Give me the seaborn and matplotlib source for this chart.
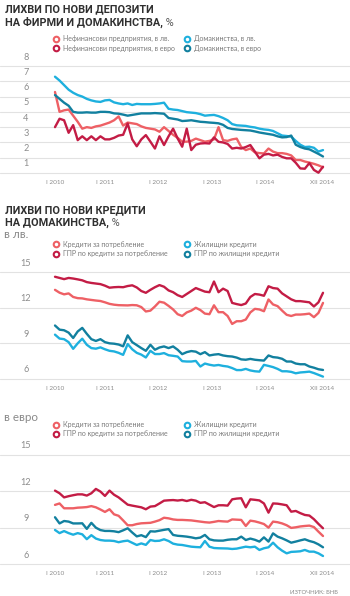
import numpy as np
import pandas as pd
import matplotlib
matplotlib.use("Agg")
import matplotlib.pyplot as plt
import seaborn as sns
from matplotlib import font_manager
from matplotlib import transforms as mtrans
from matplotlib.lines import Line2D
from matplotlib.text import Annotation

# ---------------- data ----------------
x_labels = ["I 2010", "I 2011", "I 2012", "I 2013", "I 2014", "XII 2014"]
months = list(range(60))  # I 2010 .. XII 2014

# chart 1: deposit rates, %
dep_nfc_bgn = [6.3, 5.0, 5.1, 5.15, 4.75, 4.35, 3.9, 4.0, 3.95, 4.05, 4.1, 4.2, 4.3, 4.45, 4.7,
               4.1, 4.3, 4.25, 4.2, 4.05, 3.95, 3.9, 3.85, 3.7, 4.0, 3.75, 3.5, 3.3, 3.05, 3.05,
               3.1, 3.25, 3.15, 3.05, 3.1, 3.2, 4.0, 3.15, 3.1, 3.2, 3.25, 2.7, 2.5, 2.6, 2.35,
               2.3, 2.28, 2.6, 2.4, 2.3, 2.3, 2.25, 2.15, 1.85, 1.85, 1.75, 1.68, 1.6, 1.5, 1.37]
dep_nfc_eur = [4.0, 4.55, 4.45, 3.63, 4.13, 3.15, 3.4, 3.15, 3.4, 3.15, 3.4, 3.2, 3.2, 3.3, 3.45,
               3.5, 4.24, 3.2, 2.75, 3.2, 3.48, 3.05, 2.6, 3.4, 2.83, 3.4, 3.9, 3.26, 2.72, 3.9,
               2.5, 2.85, 2.93, 2.95, 2.93, 3.33, 3.04, 3.0, 2.9, 2.6, 2.65, 2.6, 2.7, 2.83, 2.4,
               1.96, 2.2, 2.25, 2.15, 2.2, 2.05, 1.96, 1.96, 1.67, 1.3, 1.28, 1.65, 1.2, 1.02, 1.41]
dep_hh_bgn = [7.3, 7.05, 6.75, 6.45, 6.25, 6.1, 6.0, 5.85, 5.75, 5.68, 5.65, 5.75, 5.78, 5.62, 5.55,
              5.5, 5.55, 5.45, 5.52, 5.5, 5.5, 5.5, 5.52, 5.55, 5.6, 5.2, 5.15, 5.12, 5.05, 4.98,
              4.95, 4.92, 4.85, 4.75, 4.78, 4.8, 4.72, 4.6, 4.45, 4.2, 4.12, 4.1, 4.08, 4.02, 3.98,
              3.9, 3.85, 3.82, 3.75, 3.6, 3.45, 3.42, 3.38, 3.1, 2.85, 2.7, 2.72, 2.65, 2.4, 2.5]
dep_hh_eur = [6.1, 5.85, 5.6, 5.4, 5.0, 4.95, 4.95, 4.97, 4.95, 4.95, 5.0, 5.0, 4.98, 4.9, 4.88,
              4.82, 4.75, 4.8, 4.85, 4.9, 4.9, 4.9, 4.92, 4.9, 4.88, 4.6, 4.55, 4.5, 4.4, 4.42,
              4.45, 4.4, 4.35, 4.33, 4.3, 4.28, 4.25, 4.15, 3.95, 3.88, 3.85, 3.82, 3.8, 3.78, 3.72,
              3.65, 3.6, 3.55, 3.5, 3.4, 3.33, 3.35, 3.45, 2.85, 2.7, 2.6, 2.55, 2.4, 2.25, 2.08]

# chart 2: household loans in BGN, %
bgn_consumer = [13.5, 13.26, 13.12, 13.2, 12.9, 12.8, 12.78, 12.7, 12.65, 12.6, 12.56, 12.45, 12.32,
                12.25, 12.21, 12.2, 12.19, 12.22, 12.2, 12.05, 11.68, 11.75, 12.1, 12.5, 12.42, 12.15,
                11.85, 11.45, 11.3, 11.6, 11.75, 11.99, 11.8, 11.5, 11.45, 12.2, 11.62, 11.62, 11.3,
                10.63, 10.86, 10.86, 11.0, 11.6, 11.9, 11.85, 11.7, 12.69, 12.27, 12.13, 11.75, 11.4,
                11.3, 11.42, 11.42, 11.45, 11.5, 11.2, 11.56, 12.4]
bgn_consumer_apr = [14.6, 14.5, 14.4, 14.5, 14.45, 14.38, 14.3, 14.15, 14.08, 14.03, 13.98, 13.85,
                    13.68, 13.72, 13.74, 13.72, 13.82, 13.88, 13.7, 13.4, 13.25, 13.5, 13.72, 13.9,
                    13.76, 13.45, 13.3, 13.05, 12.9, 13.15, 13.4, 13.65, 13.5, 13.35, 13.3, 14.2,
                    13.3, 13.6, 13.4, 12.4, 12.3, 12.22, 12.35, 12.9, 13.15, 13.1, 13.0, 13.8, 13.65,
                    13.6, 13.2, 12.95, 12.7, 12.55, 12.55, 12.5, 12.45, 12.1, 12.45, 13.25]
bgn_housing = [9.73, 9.4, 9.35, 9.1, 8.54, 9.0, 9.39, 8.88, 8.6, 8.55, 8.66, 8.5, 8.37, 8.32, 8.2,
               8.03, 8.94, 8.5, 8.2, 8.05, 7.81, 8.37, 8.1, 8.1, 8.18, 8.0, 7.95, 7.89, 7.5, 7.47,
               7.47, 7.52, 7.05, 7.3, 7.2, 7.13, 7.18, 7.1, 7.05, 6.92, 6.75, 6.75, 6.85, 6.72, 6.65,
               6.62, 7.19, 7.1, 7.0, 6.85, 6.65, 6.65, 6.6, 6.48, 6.55, 6.58, 6.62, 6.5, 6.35, 6.2]
bgn_housing_apr = [10.5, 10.15, 10.1, 9.9, 9.45, 10.0, 10.3, 9.8, 9.35, 9.2, 9.35, 9.1, 9.0, 8.97,
                   8.9, 8.75, 9.67, 9.1, 8.85, 8.6, 8.37, 8.88, 8.46, 8.65, 8.74, 8.6, 8.74, 8.46,
                   8.09, 8.26, 8.35, 8.3, 8.09, 8.26, 7.98, 8.05, 8.09, 7.98, 7.92, 7.89, 7.8, 7.65,
                   7.62, 7.69, 7.62, 7.58, 7.55, 7.98, 7.84, 7.8, 7.7, 7.47, 7.47, 7.3, 7.24, 7.24,
                   7.05, 6.95, 6.82, 6.76]

# chart 3: household loans in EUR, %
eur_consumer = [10.88, 11.0, 10.6, 10.6, 10.6, 10.65, 10.67, 10.7, 10.78, 10.68, 10.5, 10.3, 10.52,
                10.1, 9.98, 9.6, 9.2, 9.2, 9.3, 9.36, 9.38, 9.4, 9.5, 9.62, 9.82, 9.77, 9.68, 9.64,
                9.64, 9.62, 9.6, 9.55, 9.5, 9.45, 9.42, 9.48, 9.55, 9.52, 9.5, 9.68, 9.66, 9.64, 9.14,
                9.58, 9.52, 9.42, 9.3, 9.0, 9.5, 9.45, 9.35, 9.2, 8.98, 9.03, 9.1, 9.14, 9.17, 9.05,
                8.67, 8.31]
eur_consumer_apr = [12.06, 11.84, 11.5, 11.6, 11.68, 11.75, 11.75, 11.65, 11.84, 12.2, 11.98, 11.62,
                    12.06, 11.72, 11.5, 11.2, 10.9, 10.82, 10.75, 10.68, 10.52, 10.74, 10.78, 11.0,
                    11.23, 11.26, 11.28, 11.24, 11.29, 11.2, 11.3, 11.23, 11.05, 11.1, 10.9, 10.7,
                    10.85, 10.85, 10.82, 11.34, 11.4, 11.43, 10.68, 11.34, 11.3, 11.25, 11.0, 10.24,
                    11.0, 10.98, 10.92, 10.85, 10.32, 10.38, 10.2, 10.05, 10.0, 9.7, 9.31, 8.95]
eur_housing = [8.81, 8.55, 8.72, 8.55, 8.42, 8.55, 8.45, 8.05, 8.38, 8.1, 7.98, 7.93, 7.93, 7.9, 7.8,
               7.88, 7.93, 7.75, 7.57, 7.7, 7.58, 7.98, 7.9, 7.92, 8.04, 7.9, 7.68, 7.6, 7.57, 7.5,
               7.43, 7.4, 7.38, 7.9, 7.43, 7.32, 7.3, 7.29, 7.28, 7.24, 7.27, 7.35, 7.43, 7.38, 7.43,
               7.16, 7.3, 7.38, 7.76, 7.38, 7.1, 6.88, 7.0, 7.02, 7.05, 7.16, 7.02, 7.02, 6.88, 6.66]
eur_housing_apr = [9.86, 9.35, 9.55, 9.5, 9.35, 9.35, 9.36, 8.9, 9.4, 9.0, 8.8, 8.73, 8.73, 8.7, 8.63,
                   8.78, 8.95, 8.6, 8.28, 8.38, 8.22, 8.7, 8.68, 8.75, 8.82, 8.88, 8.4, 8.33, 8.3,
                   8.26, 8.2, 8.12, 8.18, 8.4, 8.04, 7.95, 7.93, 7.93, 8.0, 8.04, 8.04, 8.26, 7.98,
                   8.1, 8.0, 7.85, 8.2, 7.85, 8.53, 8.26, 8.12, 7.95, 7.76, 7.85, 7.95, 8.04, 7.9,
                   7.8, 7.62, 7.38]

dep_labels = ["Нефинансови предприятия, в лв.", "Нефинансови предприятия, в евро",
              "Домакинства, в лв.", "Домакинства, в евро"]
loan_labels = ["Кредити за потребление", "ГПР по кредити за потребление",
               "Жилищни кредити", "ГПР по жилищни кредити"]
dep_ticks = [1, 2, 3, 4, 5, 6, 7, 8]
loan_ticks = [6, 9, 12, 15]

# ---------------- style ----------------
C_LRED = "#EE6065"
C_DRED = "#C31C45"
C_CYAN = "#1EB0DE"
C_TEAL = "#12809F"
colors = [C_LRED, C_DRED, C_CYAN, C_TEAL]
GRID = "#e2e2e2"
TXT = "#8c8c8c"
TITLE_C = "#303030"

sns.set_theme(style="white")
avail = {f.name for f in font_manager.fontManager.ttflist}
NARROW = "Liberation Sans Narrow" in avail
TITLE_FONT = ["Liberation Sans Narrow", "DejaVu Sans"] if NARROW else ["Roboto", "DejaVu Sans"]
TITLE_SIZE = 9.2 if NARROW else 7.8
SMALL_FONT = ["Lato", "DejaVu Sans"] if "Lato" in avail else ["DejaVu Sans"]
plt.rcParams["font.family"] = SMALL_FONT

W, H = 350, 596
fig = plt.figure(figsize=(W / 100, H / 100), dpi=100)
fig.patch.set_facecolor("white")

X0, X1 = 55.0, 323.0          # pixel x of first / last month
PPM = (X1 - X0) / (len(months) - 1)
# tick positions (in months) matching the reference label placement
tick_pos = [(px - X0) / PPM for px in (55, 105, 158, 212, 265, 322)]


def fx(x):
    return x / W


def fy(y):
    return 1 - y / H


def panel(y_top, y_bot, v_top, v_bot, ticks, series, labels, xlab_y):
    pad = 7
    ax = fig.add_axes([0, fy(y_bot + pad), 1, (y_bot - y_top + 2 * pad) / H])
    ppu = (y_bot - y_top) / (v_top - v_bot)
    ax.set_ylim(v_bot - pad / ppu, v_top + pad / ppu)
    ax.set_xlim(-X0 / PPM, (W - X0) / PPM)
    df = pd.concat([pd.DataFrame({"month": months, "value": s, "series": lab})
                    for s, lab in zip(series, labels)], ignore_index=True)
    order = [labels[0], labels[2], labels[1], labels[3]]
    pal = {labels[i]: colors[i] for i in range(4)}
    sns.lineplot(data=df, x="month", y="value", hue="series", hue_order=order,
                 palette=pal, linewidth=1.7, legend=False, ax=ax)
    ax.set_xlabel("")
    ax.set_ylabel("")
    ax.set_yticks(ticks)
    ax.grid(axis="y", color=GRID, linewidth=0.8)
    ax.grid(axis="x", visible=False)
    ax.tick_params(axis="y", length=0, labelleft=False)
    ax.set_xticks(tick_pos)
    ax.set_xticklabels(x_labels)
    label_pad_px = xlab_y - (y_bot + pad) - 3
    ax.tick_params(axis="x", length=0, labelsize=4.6, colors=TXT, pad=max(label_pad_px, 0) * 0.72)
    for sp in ax.spines.values():
        sp.set_visible(False)
    ax.set_facecolor("none")
    off = mtrans.ScaledTranslation(0, 9 / 100, fig.dpi_scale_trans)
    tr = mtrans.blended_transform_factory(ax.transAxes, ax.transData) + off
    for t in ticks:
        ax.text(26 / W, t, str(t), transform=tr, ha="center", va="center",
                fontsize=6.6, color=TXT)
    return ax


def legend(labels, y_row1):
    fs = 5.0
    hl = 1.0
    fs_px = fs * 100 / 72
    for col, xm in ((0, 56), (1, 187)):
        idx = [col * 2, col * 2 + 1]
        handles = [Line2D([], [], ls="none", marker="o", markersize=4.0,
                          markerfacecolor="white", markeredgecolor=colors[i],
                          markeredgewidth=1.5) for i in idx]
        leg = fig.legend(handles, [labels[i] for i in idx], loc="upper left",
                         bbox_to_anchor=(fx(xm - hl * fs_px / 2), fy(y_row1 - 4.6)),
                         frameon=False, fontsize=fs, handlelength=hl, handletextpad=0.45,
                         labelspacing=0.3, borderpad=0, borderaxespad=0)
        for t in leg.get_texts():
            t.set_color("#7a7a7a")


def title(line1, line2, y1, y2):
    fig.text(fx(5), fy(y1), line1, fontsize=TITLE_SIZE, fontweight="bold",
             family=TITLE_FONT, color=TITLE_C, va="baseline", ha="left")
    t2 = fig.text(fx(5), fy(y2), line2, fontsize=TITLE_SIZE, fontweight="bold",
                  family=TITLE_FONT, color=TITLE_C, va="baseline", ha="left")
    pct = Annotation(" %", xy=(1, 0), xycoords=t2, xytext=(0, 0), textcoords="offset points",
                     fontsize=TITLE_SIZE, family=TITLE_FONT, color="#555555",
                     va="bottom", ha="left", annotation_clip=False)
    fig.add_artist(pct)


# ---------- chart 1 ----------
title("ЛИХВИ ПО НОВИ ДЕПОЗИТИ", "НА ФИРМИ И ДОМАКИНСТВА,", 12.5, 26)
legend(dep_labels, 40)
panel(66, 173, 8, 1, dep_ticks, [dep_nfc_bgn, dep_nfc_eur, dep_hh_bgn, dep_hh_eur],
      dep_labels, 182)

# ---------- chart 2 ----------
title("ЛИХВИ ПО НОВИ КРЕДИТИ", "НА ДОМАКИНСТВА,", 213, 226)
fig.text(fx(4), fy(238), "в лв.", fontsize=8.4, color="#8a8a8a", va="baseline", ha="left")
legend(loan_labels, 245.5)
panel(272, 379, 15, 6, loan_ticks, [bgn_consumer, bgn_consumer_apr, bgn_housing, bgn_housing_apr],
      loan_labels, 389)

# ---------- chart 3 ----------
fig.text(fx(4), fy(421), "в евро", fontsize=8.4, color="#8a8a8a", va="baseline", ha="left")
legend(loan_labels, 425.7)
panel(455, 564, 15, 6, loan_ticks, [eur_consumer, eur_consumer_apr, eur_housing, eur_housing_apr],
      loan_labels, 573)

fig.text(fx(338), fy(594), "ИЗТОЧНИК: БНБ", fontsize=4.3, color="#8a8a8a", ha="right",
         va="baseline")

fig.savefig("out.png", dpi=100, facecolor="white")
